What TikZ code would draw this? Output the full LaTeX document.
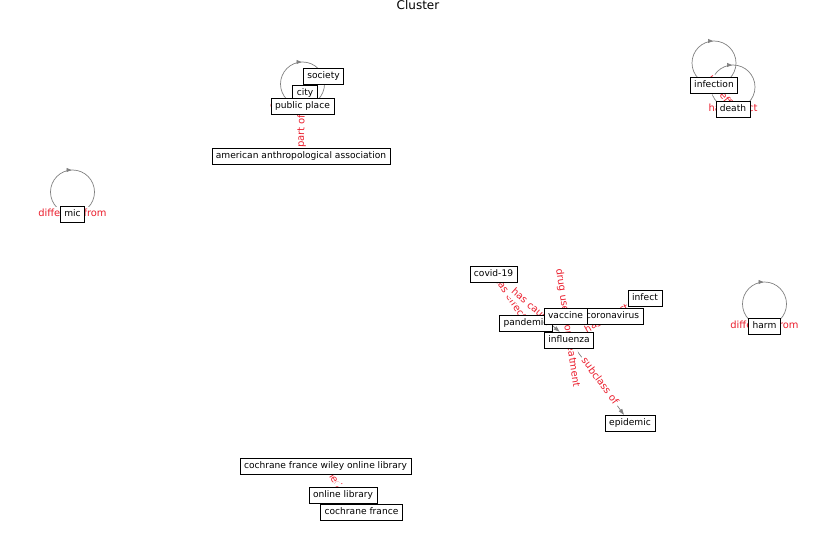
\documentclass[tikz,border=0pt]{standalone}
\usepackage{fontspec}
\setmainfont{DejaVu Sans}
\usetikzlibrary{arrows.meta}

\definecolor{edgegray}{RGB}{128,128,128}
\definecolor{labelred}{RGB}{235,30,45}

\pgfdeclarelayer{edges}
\pgfdeclarelayer{elabels}
\pgfsetlayers{edges,elabels,main}

\tikzset{
  nodebox/.style={draw=black, fill=white, line width=0.6pt,
    font=\fontsize{9.1}{10.5}\selectfont, text height=6.6pt, text depth=1.8pt,
    inner xsep=4pt, inner ysep=3.7pt, anchor=center},
  elabel/.style={fill=white, rounded corners=2.5pt, text=labelred,
    font=\fontsize{9.9}{11}\selectfont, text height=7pt, text depth=2pt,
    inner sep=2.5pt},
  edgeline/.style={draw=edgegray, line width=0.7pt},
  arrowline/.style={edgeline, -{Triangle[length=6pt,width=4pt]}},
  looptip/.style={edgeline, -{Triangle[length=5pt,width=4pt]}},
}

% self-loop: circle above the node, arrow pointing right at its top
\newcommand{\selfloop}[2]{%
  \coordinate (#2) at ([yshift=22pt]#1.center);
  \draw[edgeline] (#2) circle[radius=22pt];
  \draw[looptip] ([xshift=-6pt,yshift=22pt]#2) -- ([xshift=-1pt,yshift=22pt]#2);
}

\begin{document}
\begin{tikzpicture}[x=1pt,y=-1pt]
\useasboundingbox (0,0) rectangle (837,559);

\node[font=\fontsize{12}{14}\selectfont] (title) at (418,5) {Cluster};

% upper left group
\node[nodebox] (society) at (323.5,76) {society};
\node[nodebox] (city) at (305,93) {city};
\node[nodebox] (publicplace) at (302.5,106) {public place};
\node[nodebox] (aaa) at (301,156) {american anthropological association};

% isolated nodes
\node[nodebox] (mic) at (72.5,214) {mic};
\node[nodebox] (harm) at (764.5,326) {harm};

% upper right group
\node[nodebox] (infection) at (714,85) {infection};
\node[nodebox] (death) at (733,109) {death};

% central group
\node[nodebox] (covid) at (493.5,274) {covid-19};
\node[nodebox] (infect) at (645,298) {infect};
\node[nodebox] (coronavirus) at (612.5,316) {coronavirus};
\node[nodebox] (pandemic) at (526,323) {pandemic};
\node[nodebox] (vaccine) at (565.5,316) {vaccine};
\node[nodebox] (influenza) at (569,340) {influenza};
\node[nodebox] (epidemic) at (630,423) {epidemic};

% lower group
\node[nodebox] (cfwol) at (325.5,466) {cochrane france wiley online library};
\node[nodebox] (onlinelib) at (343,495) {online library};
\node[nodebox] (cochrane) at (361.5,512) {cochrane france};

\begin{pgfonlayer}{edges}
  \selfloop{publicplace}{pploop}
  \selfloop{mic}{micloop}
  \selfloop{harm}{harmloop}
  \selfloop{infection}{infloop}
  \selfloop{death}{deathloop}

  \draw[arrowline] (aaa) -- (publicplace);
  \draw[arrowline] (infection) -- (death);
  \draw[arrowline] (covid) -- (pandemic);
  \draw[arrowline] (covid) -- (influenza);
  \draw[arrowline] (vaccine) -- (influenza);
  \draw[arrowline] (influenza) -- (infect);
  \draw[arrowline] (influenza) -- (epidemic);
  \draw[arrowline] (cfwol) -- (onlinelib);
  \draw[arrowline] (onlinelib) -- (cochrane);
\end{pgfonlayer}

\begin{pgfonlayer}{elabels}
  \node[elabel] (lpp) at (publicplace.center) {connected to};
  \node[elabel] (lmic) at (mic.center) {different from};
  \node[elabel] (lharm) at (harm.center) {different from};
  \node[elabel] (ldeath) at (death.center) {has effect};

  \path (aaa.center) -- node[elabel, sloped] (laaa) {part of} (publicplace.center);
  \path (infection.center) -- node[elabel, sloped] (linf) {has effect} (death.center);
  \path (covid.center) -- node[elabel, sloped] (lcp) {has effect} (pandemic.center);
  \path (covid.center) -- node[elabel, sloped] (lci) {has cause} (influenza.center);
  \path (vaccine.center) -- node[elabel, sloped] (lvi) {drug used for treatment} (influenza.center);
  \path (influenza.center) -- node[elabel, sloped] (lii) {has effect} (infect.center);
  \path (influenza.center) -- node[elabel, sloped] (lie) {subclass of} (epidemic.center);
  \path (cfwol.center) -- node[elabel, sloped] (lco) {owned by} (onlinelib.center);
  \path (onlinelib.center) -- node[elabel, sloped] (loc) {owned by} (cochrane.center);
\end{pgfonlayer}
\end{tikzpicture}
\end{document}
